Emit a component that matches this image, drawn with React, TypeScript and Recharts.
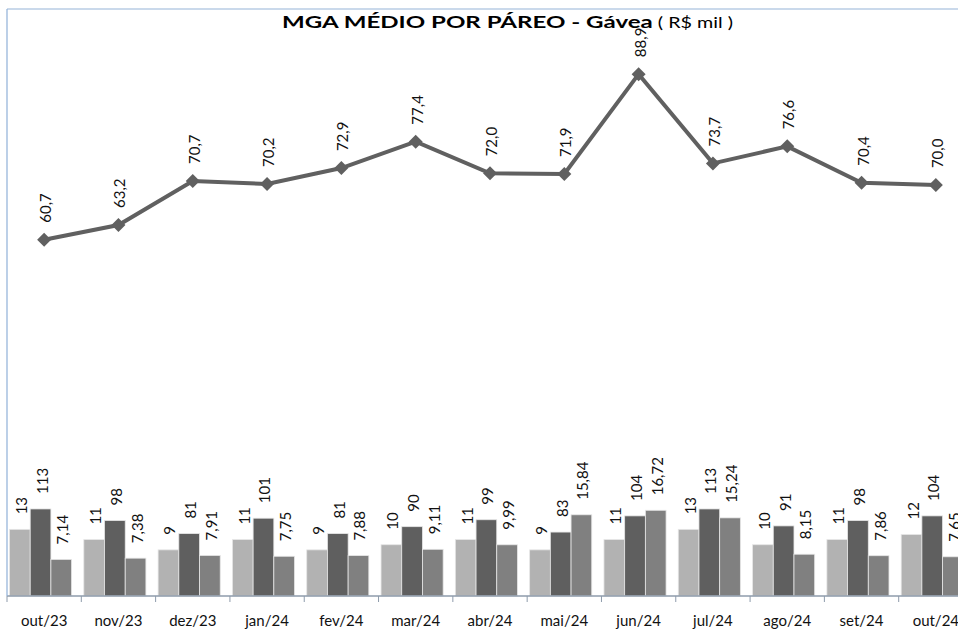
import React from "react"
import { ComposedChart, Bar, Line, XAxis, YAxis, LabelList, ReferenceLine } from "recharts"

const months = ["out/23", "nov/23", "dez/23", "jan/24", "fev/24", "mar/24", "abr/24", "mai/24", "jun/24", "jul/24", "ago/24", "set/24", "out/24"]
const mgaMedio = [60.7, 63.2, 70.7, 70.2, 72.9, 77.4, 72.0, 71.9, 88.9, 73.7, 76.6, 70.4, 70.0]
const pareos = [13, 11, 9, 11, 9, 10, 11, 9, 11, 13, 10, 11, 12]
const pareosTotal = [113, 98, 81, 101, 81, 90, 99, 83, 104, 113, 91, 98, 104]
const mgaPareo = [7.14, 7.38, 7.91, 7.75, 7.88, 9.11, 9.99, 15.84, 16.72, 15.24, 8.15, 7.86, 7.65]

const data = months.map((m, i) => ({
  name: m,
  mga: mgaMedio[i],
  pareos: pareos[i],
  total: pareosTotal[i],
  porPareo: mgaPareo[i],
}))

const FONT = "Lato, 'Open Sans', sans-serif"
const BAR_SHIFT = -3.5
const BAND = 74.3

const fmt = (v: number, d: number) => v.toFixed(d).replace(".", ",")

const BarShape = (props: any) => {
  const { x, y, width, height, fill } = props
  return <rect x={x + BAR_SHIFT} y={y} width={width} height={height} fill={fill} stroke="#E6E6E6" strokeWidth={0.8} />
}

const barLabel = (digits: number) => (props: any) => {
  const { x, y, width, value } = props
  const cx = x + width / 2 + BAR_SHIFT + 1
  const ty = y - 15
  return (
    <text
      x={cx}
      y={ty}
      transform={`rotate(-90 ${cx} ${ty})`}
      textAnchor="start"
      dominantBaseline="central"
      fontFamily={FONT}
      fontSize={15}
      fill="#111"
    >
      {fmt(value, digits)}
    </text>
  )
}

const lineLabel = (props: any) => {
  const { x, y, value } = props
  const cx = x + 1
  const ty = y - 17
  return (
    <text
      x={cx}
      y={ty}
      transform={`rotate(-90 ${cx} ${ty})`}
      textAnchor="start"
      dominantBaseline="central"
      fontFamily={FONT}
      fontSize={15}
      fill="#111"
    >
      {fmt(value, 1)}
    </text>
  )
}

const Diamond = (props: any) => {
  const { cx, cy } = props
  if (cx == null || cy == null) return null
  const r = 7
  return <path d={`M${cx},${cy - r}L${cx + r},${cy}L${cx},${cy + r}L${cx - r},${cy}Z`} fill="#606060" />
}

const MonthTick = (props: any) => {
  const { x, y, payload } = props
  const bx = x - BAND / 2
  return (
    <g>
      <line x1={bx} x2={bx} y1={y} y2={y + 6} stroke="#8E9BAB" strokeWidth={1} />
      <text x={x} y={y + 30} textAnchor="middle" fontFamily={FONT} fontSize={15} fill="#111">
        {payload.value}
      </text>
    </g>
  )
}

export default function App() {
  return (
    <div style={{ position: "absolute", left: 0, top: 0, width: 958, height: 630, overflow: "hidden", background: "#fff" }}>
      <ComposedChart
        width={985}
        height={630}
        data={data}
        margin={{ top: 9, right: 12, bottom: 4, left: 6 }}
        barGap={0}
      >
        <XAxis
          dataKey="name"
          height={30}
          tickSize={0}
          tickMargin={0}
          tickLine={false}
          axisLine={{ stroke: "#8E9BAB", strokeWidth: 1.5 }}
          tick={<MonthTick />}
          interval={0}
        />
        <YAxis
          yAxisId="line"
          domain={[0, 100]}
          width={1}
          tick={false}
          tickLine={false}
          axisLine={{ stroke: "#8FB0D8", strokeWidth: 1.2 }}
        />
        <YAxis yAxisId="small" domain={[0, 114.5]} hide />
        <YAxis yAxisId="total" domain={[0, 762]} hide />
        <ReferenceLine yAxisId="line" y={100} stroke="#95B3D7" />
        <Bar yAxisId="small" dataKey="pareos" fill="#B2B2B2" barSize={20.7} shape={<BarShape />} isAnimationActive={false}>
          <LabelList dataKey="pareos" content={barLabel(0)} />
        </Bar>
        <Bar yAxisId="total" dataKey="total" fill="#5F5F5F" barSize={20.7} shape={<BarShape />} isAnimationActive={false}>
          <LabelList dataKey="total" content={barLabel(0)} />
        </Bar>
        <Bar yAxisId="small" dataKey="porPareo" fill="#808080" barSize={20.7} shape={<BarShape />} isAnimationActive={false}>
          <LabelList dataKey="porPareo" content={barLabel(2)} />
        </Bar>
        <Line
          yAxisId="line"
          dataKey="mga"
          stroke="#606060"
          strokeWidth={4}
          dot={<Diamond />}
          activeDot={false}
          isAnimationActive={false}
        >
          <LabelList dataKey="mga" content={lineLabel} />
        </Line>
      </ComposedChart>
      <div
        style={{
          position: "absolute",
          left: 282,
          top: 12,
          whiteSpace: "nowrap",
          fontFamily: FONT,
          lineHeight: "20px",
          color: "#000",
          transform: "scaleX(1.36)",
          transformOrigin: "left top",
        }}
      >
        <span style={{ fontSize: 17.7, fontWeight: 700 }}>MGA MÉDIO POR PÁREO - Gávea</span>
        <span style={{ fontSize: 14.5 }}> ( R$ mil )</span>
      </div>
    </div>
  )
}
